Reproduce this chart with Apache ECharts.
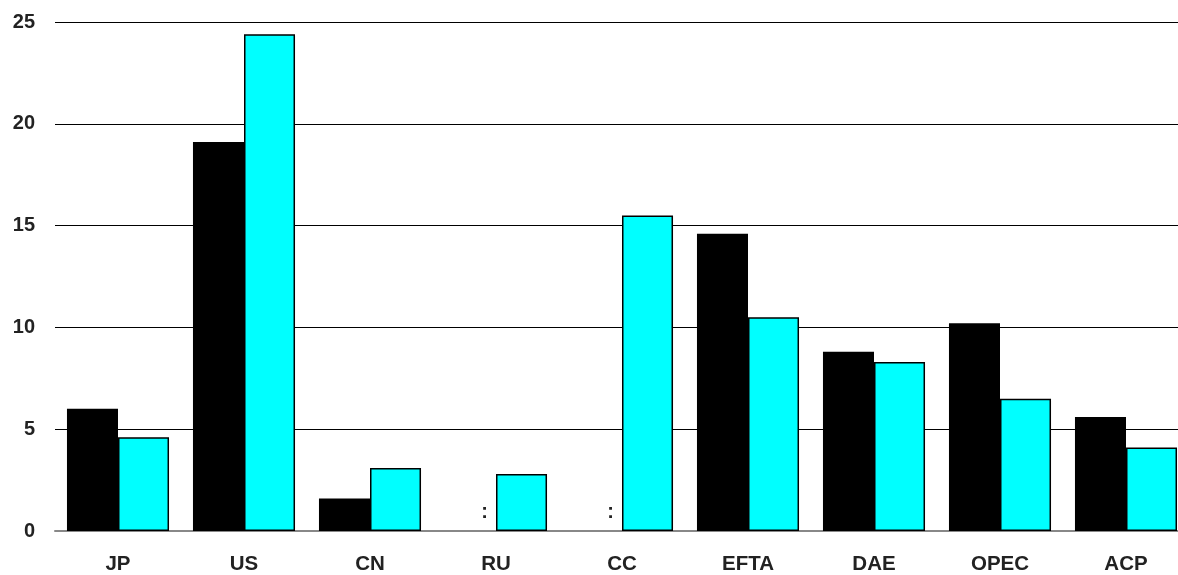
<!DOCTYPE html>
<html><head><meta charset="utf-8">
<script src="https://cdn.jsdelivr.net/npm/echarts@6/dist/echarts.min.js"></script>
<style>html,body{margin:0;padding:0;background:#fff}#c{width:1178px;height:575px}</style>
</head><body><div id="c"></div>
<script>
const categories = ['JP','US','CN','RU','CC','EFTA','DAE','OPEC','ACP'];
const series1 = [6.0, 19.1, 1.6, null, null, 14.6, 8.8, 10.2, 5.6];
const series2 = [4.6, 24.4, 3.1, 2.8, 15.5, 10.5, 8.3, 6.5, 4.1];
const yTicks = { min: 0, max: 25, interval: 5 };

const chart = echarts.init(document.getElementById('c'));
const font = 'Liberation Sans, Arial, sans-serif';
chart.setOption({
  animation: false,
  grid: { left: 55, width: 1134, top: 22, bottom: 44, outerBoundsMode: 'none', containLabel: false },
  xAxis: {
    type: 'category', data: categories,
    axisLine: { lineStyle: { color: '#888', width: 2 } },
    axisTick: { show: false },
    axisLabel: { color: '#222', fontFamily: font, fontWeight: 'bold', fontSize: 20.5, margin: 23 }
  },
  yAxis: {
    type: 'value', min: yTicks.min, max: yTicks.max, interval: yTicks.interval,
    axisLine: { show: false }, axisTick: { show: false },
    splitLine: { lineStyle: { color: '#000', width: 1 } },
    axisLabel: { color: '#222', fontFamily: font, fontWeight: 'bold', fontSize: 20, margin: 20 }
  },
  series: [
    {
      type: 'bar', barGap: '0%', barCategoryGap: '19%',
      data: series1.map(v => v === null
        ? { value: 0, itemStyle: { borderWidth: 0, color: 'rgba(0,0,0,0)' },
            label: { show: true, formatter: ':', position: 'top', offset: [14, -4],
            color: '#222', fontFamily: font, fontWeight: 'bold', fontSize: 20 } }
        : v),
      itemStyle: { color: '#000', borderColor: '#000', borderWidth: 0 }
    },
    {
      type: 'bar',
      data: series2,
      itemStyle: { color: '#00ffff', borderColor: '#000', borderWidth: 1.5 }
    }
  ]
});
</script></body></html>
